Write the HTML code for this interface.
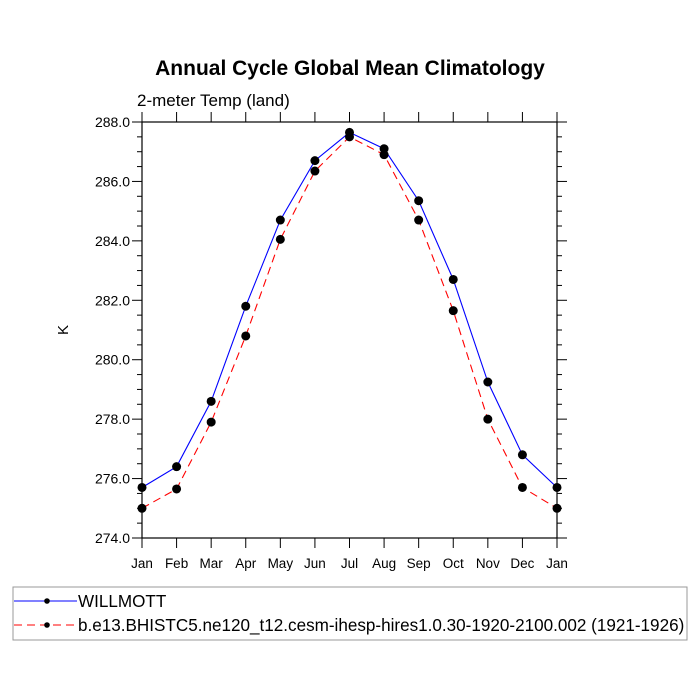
<!DOCTYPE html>
<html><head><meta charset="utf-8"><style>
body{margin:0;background:#fff;}
svg{display:block;font-family:"Liberation Sans",sans-serif;}
</style></head><body>
<svg id="chart" width="700" height="700">
<text x="350" y="75" text-anchor="middle" font-size="21" font-weight="bold">Annual Cycle Global Mean Climatology</text>
<text x="137" y="106" font-size="17">2-meter Temp (land)</text>
<text transform="translate(68,330) rotate(-90)" text-anchor="middle" font-size="15">K</text>
<g id="axes"></g>
<g id="series"></g>
<rect x="13" y="587" width="674" height="53" fill="none" stroke="#999" stroke-width="1"/>
<g>
<line x1="14" y1="601" x2="77" y2="601" stroke="#0000ff" stroke-width="1"/>
<circle cx="47" cy="601" r="2.8" fill="#000"/>
<text x="78" y="607" font-size="17.1">WILLMOTT</text>
</g>
<g>
<line x1="14" y1="625" x2="77" y2="625" stroke="#ff0000" stroke-width="1" stroke-dasharray="8,5"/>
<circle cx="47" cy="625" r="2.8" fill="#000"/>
<text x="78" y="631" font-size="17.1">b.e13.BHISTC5.ne120_t12.cesm-ihesp-hires1.0.30-1920-2100.002 (1921-1926)</text>
</g>
</svg>
<script>
const months=["Jan","Feb","Mar","Apr","May","Jun","Jul","Aug","Sep","Oct","Nov","Dec","Jan"];
const willmott=[275.7,276.4,278.6,281.8,284.7,286.7,287.65,287.1,285.35,282.7,279.25,276.8,275.7];
const model=[275.0,275.65,277.9,280.8,284.05,286.35,287.5,286.9,284.7,281.65,278.0,275.7,275.0];
const yTicks=[274,276,278,280,282,284,286,288];
const X0=142,X1=557,Y0=538,Y1=122,YMIN=274,YMAX=288;
const xs=i=>X0+(X1-X0)*i/(months.length-1);
const ys=v=>Y0-(v-YMIN)/(YMAX-YMIN)*(Y0-Y1);
const NS="http://www.w3.org/2000/svg";
function mk(tag,attrs,parent){const e=document.createElementNS(NS,tag);for(const k in attrs)e.setAttribute(k,attrs[k]);parent.appendChild(e);return e;}
const ax=document.getElementById('axes');
const fr=mk('rect',{x:X0,y:Y1,width:X1-X0,height:Y0-Y1,fill:'none',stroke:'#000','stroke-width':1.2},ax);


months.forEach((m,i)=>{
  const x=xs(i);
  mk('line',{x1:x,y1:Y0,x2:x,y2:Y0+10,stroke:'#000'},ax);
  mk('line',{x1:x,y1:Y1,x2:x,y2:Y1-10,stroke:'#000'},ax);
  const t=mk('text',{x:x,y:Y0+30,'text-anchor':'middle','font-size':13.5},ax);
  t.textContent=m;
  
  
});
for(let v=YMIN;v<=YMAX+1e-9;v+=0.5){
  const y=ys(v);const major=Math.abs(v%2)<1e-9;const L=major?10:5;
  mk('line',{x1:X0,y1:y,x2:X0-L,y2:y,stroke:'#000'},ax);
  mk('line',{x1:X1,y1:y,x2:X1+L,y2:y,stroke:'#000'},ax);
}
yTicks.forEach(v=>{
  const t=mk('text',{x:130,y:ys(v)+5,'text-anchor':'end','font-size':14},ax);
  t.textContent=v.toFixed(1);
  
  
});
const sg=document.getElementById('series');
function draw(vals,color,dash,name){
  const g=mk('g',{},sg);
  
  
  const p=mk('polyline',{points:vals.map((v,i)=>xs(i)+','+ys(v)).join(' '),fill:'none',stroke:color,'stroke-width':1.1},g);
  if(dash)p.setAttribute('stroke-dasharray',dash);
  vals.forEach((v,i)=>{
    const c=mk('circle',{cx:xs(i),cy:ys(v),r:4.5,fill:'#000'},g);
    
    
  });
}
draw(willmott,'#0000ff',null,'series-willmott');
draw(model,'#ff0000','8,5','series-model');
</script>
</body></html>
